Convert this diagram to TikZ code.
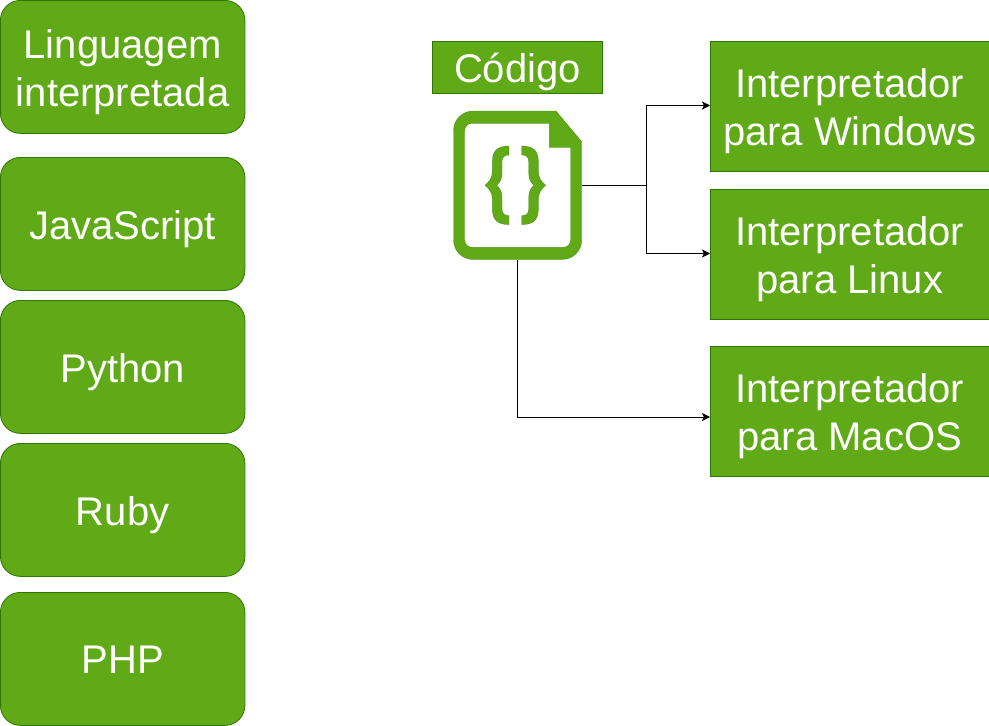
\documentclass[tikz,border=0pt]{standalone}
\usepackage{fontspec}
\setmainfont{Liberation Sans}
\usetikzlibrary{arrows.meta}
\definecolor{gfill}{HTML}{60A917}
\definecolor{gline}{HTML}{2D7600}
\newcommand{\lineh}{\rule[-9pt]{0pt}{48pt}}
\newcommand{\langh}{\rule[-8.4pt]{0pt}{48pt}}
\newcommand{\bracepath}{(509,146) .. controls (498.3,146) and (492.3,150) .. (492.3,161.7) -- (492.3,171.7)
  .. controls (492.3,178) and (489,182) .. (485,185.3)
  .. controls (489,188.6) and (492.3,192.6) .. (492.3,198.9) -- (492.3,208.9)
  .. controls (492.3,220.6) and (498.3,224.6) .. (509,224.6) -- (509,215.6)
  .. controls (505,215.6) and (502,214) .. (502,208.9) -- (502,197.3)
  .. controls (502,192) and (500,188) .. (496.7,185.3)
  .. controls (500,182.6) and (502,178.6) .. (502,173.3) -- (502,161.7)
  .. controls (502,156.6) and (505,155) .. (509,155) -- cycle}
\tikzset{
  x=1pt,y=-1pt,
  base/.style={draw=gline,fill=gfill,line width=0.8pt,text=white,align=center,inner sep=0pt,outer sep=0pt,anchor=north west,font=\fontsize{40}{48}\selectfont},
  lang/.style={base,rounded corners=20pt,minimum width=244.5pt,minimum height=133pt},
  interp/.style={base,minimum width=279.5pt,minimum height=130pt},
  conn/.style={draw=black,line width=0.8pt,-{Stealth[length=8pt,width=8pt,inset=2pt]}},
  plainconn/.style={draw=black,line width=0.8pt},
  iconfill/.style={fill=gfill,draw=gline,draw opacity=0.6,line width=0.4pt},
}
\begin{document}
\begin{tikzpicture}
\useasboundingbox (0,0) rectangle (989,726);
\node[lang] (l1) at (0.4,0.4) {\langh Linguagem\\\langh interpretada};
\node[lang] (l2) at (0.4,157.4) {\langh JavaScript};
\node[lang] (l3) at (0.4,300.4) {\langh Python};
\node[lang] (l4) at (0.4,443.4) {\langh Ruby};
\node[lang] (l5) at (0.4,592.4) {\lineh PHP};
\node[base,minimum width=170pt,minimum height=52pt] (cod) at (432.4,41) {\lineh Código};
\node[interp] (win) at (710,41) {\lineh Interpretador\\\lineh para Windows};
\node[interp] (lin) at (710,189) {\lineh Interpretador\\\lineh para Linux};
\node[interp] (mac) at (710,346) {\lineh Interpretador\\\lineh para MacOS};
% file icon
\node[minimum width=129pt,minimum height=149pt,inner sep=0pt,outer sep=0pt,anchor=north west] (icon) at (453,111) {};
\path[iconfill,even odd rule]
  (473,111) -- (556,111) -- (581.7,141.7) -- (581.7,240) arc[start angle=0,end angle=90,radius=19.5] -- (473,259.5) arc[start angle=90,end angle=180,radius=19.5] -- (453.5,130.5) arc[start angle=180,end angle=270,radius=19.5] -- cycle
  (472,123.3) -- (549.3,123.3) -- (549.3,147.3) -- (570.7,147.3) -- (570.7,240) arc[start angle=0,end angle=90,radius=7.3] -- (472,247.3) arc[start angle=90,end angle=180,radius=7.3] -- (464.7,130.6) arc[start angle=180,end angle=270,radius=7.3] -- cycle;
\path[iconfill] \bracepath;
\begin{scope}[shift={(1030.7,0)},xscale=-1]
\path[iconfill] \bracepath;
\end{scope}
% connectors
\coordinate (j1) at (646,185.5);
\coordinate (wt) at (710,105.5);
\coordinate (lt) at (710,253.5);
\coordinate (mt) at (710,417);
\draw[plainconn] (icon.east) -- (j1);
\draw[conn] (j1) |- (wt);
\draw[conn] (j1) |- (lt);
\draw[conn] (icon.south) |- (mt);
\end{tikzpicture}
\end{document}
